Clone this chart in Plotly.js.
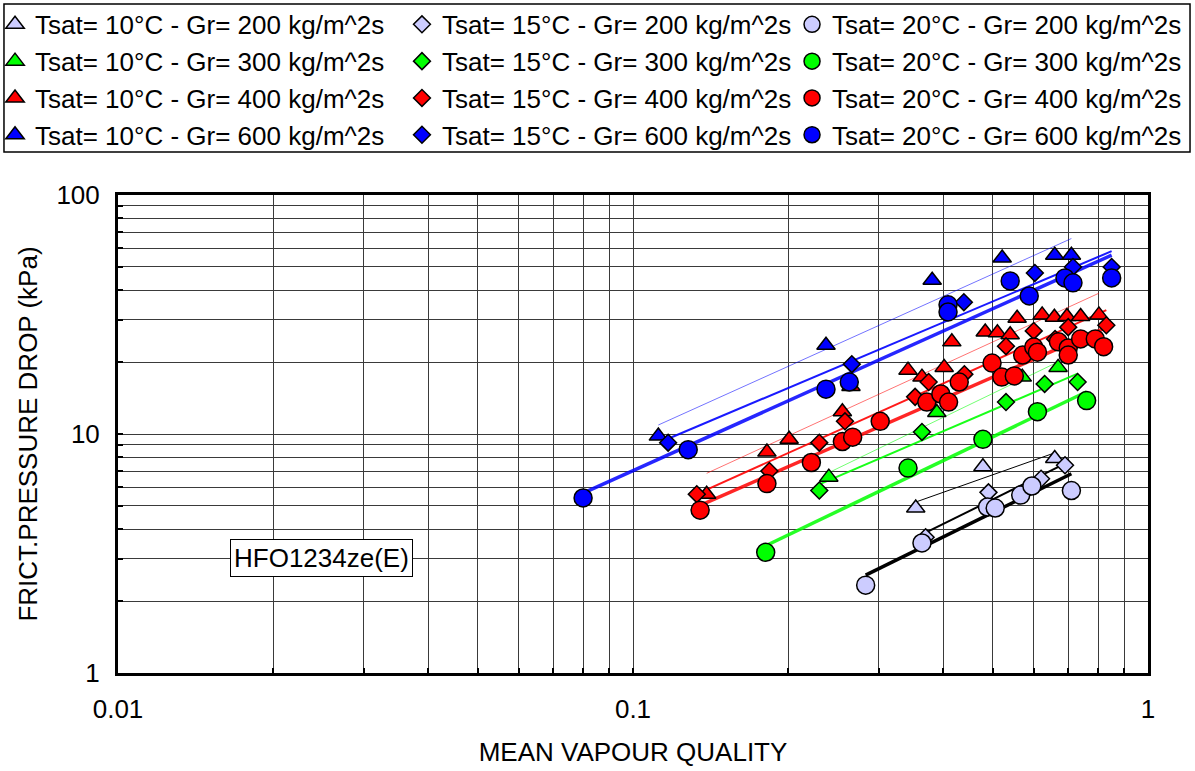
<!DOCTYPE html>
<html><head><meta charset="utf-8">
<script src="https://cdn.plot.ly/plotly-3.0.1.min.js"></script>
<style>body{margin:0;background:#fff}#chart{width:1195px;height:771px}</style>
</head><body><div id="chart"></div>
<script>
// ---- data (mean vapour quality, frictional pressure drop kPa) ----
const x_t10_g200 = [0.354, 0.478, 0.659];
const y_t10_g200 = [4.9, 7.3, 7.9];
const x_t15_g200 = [0.37, 0.49, 0.62, 0.69];
const y_t15_g200 = [3.7, 5.7, 6.5, 7.4];
const x_t20_g200 = [0.283, 0.364, 0.488, 0.505, 0.566, 0.595, 0.71];
const y_t20_g200 = [2.33, 3.5, 4.95, 4.9, 5.55, 6.06, 5.8];

const x_t10_g300 = [0.24, 0.389, 0.57, 0.669];
const y_t10_g300 = [6.6, 12.3, 17.3, 19.0];
const x_t15_g300 = [0.23, 0.364, 0.53, 0.63, 0.73];
const y_t15_g300 = [5.8, 10.2, 13.6, 16.2, 16.5];
const x_t20_g300 = [0.181, 0.342, 0.478, 0.61, 0.76];
const y_t20_g300 = [3.2, 7.2, 9.5, 12.4, 13.8];

const x_t10_g400 = [0.139, 0.182, 0.201, 0.255, 0.265, 0.342, 0.364, 0.402, 0.416, 0.483, 0.51, 0.54, 0.557, 0.623, 0.658, 0.696, 0.74, 0.803];
const y_t10_g400 = [5.6, 8.4, 9.5, 12.4, 15.8, 18.5, 17.3, 19, 24.3, 26.7, 26.5, 26, 30.5, 31.5, 30.8, 31, 31, 31.5];
const x_t15_g400 = [0.133, 0.184, 0.23, 0.258, 0.353, 0.375, 0.44, 0.53, 0.60, 0.66, 0.70, 0.83];
const y_t15_g400 = [5.6, 7.0, 9.2, 11.3, 14.3, 16.5, 17.8, 23.3, 27, 25, 28, 28.5];
const x_t20_g400 = [0.135, 0.182, 0.222, 0.255, 0.267, 0.302, 0.372, 0.396, 0.41, 0.43, 0.498, 0.52, 0.55, 0.571, 0.60, 0.61, 0.67, 0.70, 0.70, 0.74, 0.79, 0.82];
const y_t20_g400 = [4.8, 6.2, 7.6, 9.3, 9.7, 11.3, 13.6, 14.7, 13.6, 16.5, 19.8, 17.3, 17.5, 21.4, 23.1, 22, 24.3, 22.9, 21.4, 25, 25, 23.2];

const x_t10_g600 = [0.112, 0.237, 0.381, 0.521, 0.659, 0.71];
const y_t10_g600 = [9.8, 23.5, 44, 54.5, 56, 56];
const x_t15_g600 = [0.117, 0.266, 0.439, 0.603, 0.715, 0.85];
const y_t15_g600 = [9.2, 19.6, 35.6, 47.2, 50, 50];
const x_t20_g600 = [0.08, 0.128, 0.237, 0.263, 0.409, 0.409, 0.54, 0.588, 0.69, 0.715, 0.85];
const y_t20_g600 = [5.4, 8.6, 15.4, 16.5, 34.7, 32.4, 43.7, 37.8, 45, 42.9, 45];

const tsatLabels = ['10', '15', '20'];
const grLabels = ['200', '300', '400', '600'];
const xTickVals = [0.01, 0.1, 1];
const xTickText = ['0.01', '0.1', '1'];
const yTickVals = [1, 10, 100];
const yTickText = ['1', '10', '100'];
const fluidLabel = 'HFO1234ze(E)';

// ---- styling ----
const seriesData = {
  '10_200': [x_t10_g200, y_t10_g200], '15_200': [x_t15_g200, y_t15_g200], '20_200': [x_t20_g200, y_t20_g200],
  '10_300': [x_t10_g300, y_t10_g300], '15_300': [x_t15_g300, y_t15_g300], '20_300': [x_t20_g300, y_t20_g300],
  '10_400': [x_t10_g400, y_t10_g400], '15_400': [x_t15_g400, y_t15_g400], '20_400': [x_t20_g400, y_t20_g400],
  '10_600': [x_t10_g600, y_t10_g600], '15_600': [x_t15_g600, y_t15_g600], '20_600': [x_t20_g600, y_t20_g600]
};
const fillColors = {'200': '#ccccff', '300': '#00ff00', '400': '#ff0000', '600': '#0000ff'};
const lineRGB = {'200': '0,0,0', '300': '0,255,0', '400': '255,0,0', '600': '0,0,255'};
const symbols = {'10': 'triangle-up', '15': 'diamond', '20': 'circle'};
const sizes = {'10': 16, '15': 13, '20': 18};
const lineStyles = {'10': {w: 1, a: 0.55}, '15': {w: 2, a: 0.9}, '20': {w: 3.5, a: 0.85}};
const legendIds = {'10': 'legend', '15': 'legend2', '20': 'legend3'};

function powerFit(xs, ys) {
  const lx = xs.map(Math.log10), ly = ys.map(Math.log10);
  const n = lx.length;
  const mx = lx.reduce((a, b) => a + b, 0) / n, my = ly.reduce((a, b) => a + b, 0) / n;
  let sxx = 0, sxy = 0;
  for (let i = 0; i < n; i++) { sxx += (lx[i] - mx) ** 2; sxy += (lx[i] - mx) * (ly[i] - my); }
  const b = sxy / sxx, a = my - b * mx;
  const xmin = Math.min(...xs), xmax = Math.max(...xs);
  const fx = [], fy = [];
  for (let k = 0; k <= 20; k++) {
    const lxv = Math.log10(xmin) + (Math.log10(xmax) - Math.log10(xmin)) * k / 20;
    fx.push(Math.pow(10, lxv)); fy.push(Math.pow(10, a + b * lxv));
  }
  return [fx, fy];
}

const fitTraces = [], markerTraces = [];
for (const t of tsatLabels) {
  for (const g of grLabels) {
    const [xs, ys] = seriesData[t + '_' + g];
    const [fx, fy] = powerFit(xs, ys);
    const ls = lineStyles[t];
    fitTraces.push({
      x: fx, y: fy, type: 'scatter', mode: 'lines', showlegend: false, hoverinfo: 'skip',
      line: {color: 'rgba(' + lineRGB[g] + ',' + (g === '200' ? 1 : ls.a) + ')', width: ls.w}
    });
    markerTraces.push({
      x: xs, y: ys, type: 'scatter', mode: 'markers',
      name: 'Tsat= ' + t + '°C - Gr= ' + g + ' kg/m^2s',
      legend: legendIds[t],
      marker: {symbol: symbols[t], size: sizes[t], color: fillColors[g], line: {color: '#000', width: 1.5}}
    });
  }
}

// gridlines at every 1..9 x 10^k
function gridValues(lo, hi) {
  const v = [];
  for (let e = lo; e < hi; e++) for (let m = 1; m <= 9; m++) v.push(m * Math.pow(10, e));
  v.push(Math.pow(10, hi));
  return v;
}
function gridText(vals, tickVals, tickText) {
  return vals.map(v => {
    const i = tickVals.findIndex(t => Math.abs(t - v) / t < 1e-9);
    return i >= 0 ? tickText[i] : '';
  });
}
const xGrid = gridValues(-2, 0), yGrid = gridValues(0, 2);

const FONT = 'Liberation Sans, Arial, sans-serif';
const FS = 26;
const legendCommon = {
  orientation: 'v', font: {family: FONT, size: FS, color: '#000'}, bgcolor: 'rgba(0,0,0,0)',
  borderwidth: 0, xanchor: 'left', yanchor: 'top', y: 1.406, itemsizing: 'trace', tracegroupgap: 0
};

const layout = {
  width: 1195, height: 771,
  margin: {l: 118, r: 47, t: 195, b: 98, autoexpand: false},
  paper_bgcolor: '#fff', plot_bgcolor: '#fff',
  font: {family: FONT, size: FS, color: '#000'},
  showlegend: true,
  legend: Object.assign({}, legendCommon, {x: -0.1194}),
  legend2: Object.assign({}, legendCommon, {x: 0.2757}),
  legend3: Object.assign({}, legendCommon, {x: 0.6544}),
  xaxis: {
    type: 'log', range: [-2, 0], tickmode: 'array', tickvals: xGrid, ticktext: gridText(xGrid, xTickVals, xTickText),
    ticks: 'inside', ticklen: 5, tickwidth: 2, tickcolor: '#000',
    showgrid: true, gridcolor: '#3a3a3a', gridwidth: 1, zeroline: false,
    showline: true, linecolor: '#000', linewidth: 3, mirror: true,
    tickfont: {family: FONT, size: FS}, ticklabelstandoff: 11,
    title: {text: 'MEAN VAPOUR QUALITY', font: {family: FONT, size: FS}, standoff: 20}
  },
  yaxis: {
    type: 'log', range: [0, 2], tickmode: 'array', tickvals: yGrid, ticktext: gridText(yGrid, yTickVals, yTickText),
    ticks: 'inside', ticklen: 5, tickwidth: 2, tickcolor: '#000',
    showgrid: true, gridcolor: '#3a3a3a', gridwidth: 1, zeroline: false,
    showline: true, linecolor: '#000', linewidth: 3, mirror: true,
    tickfont: {family: FONT, size: FS}, ticklabelstandoff: 10,
    title: {text: 'FRICT.PRESSURE DROP (kPa)', font: {family: FONT, size: FS}, standoff: 12}
  },
  shapes: [{
    type: 'rect', xref: 'paper', yref: 'paper', x0: -0.1107, x1: 1.0408, y0: 1.090, y1: 1.3996,
    line: {color: '#000', width: 1.5}, fillcolor: 'rgba(0,0,0,0)', layer: 'above'
  }],
  annotations: [{
    text: fluidLabel, xref: 'paper', yref: 'paper', x: 0.198, y: 0.2406, xanchor: 'center', yanchor: 'middle',
    showarrow: false, font: {family: FONT, size: FS, color: '#000'},
    bgcolor: '#fff', bordercolor: '#000', borderwidth: 1, borderpad: 3
  }]
};

Plotly.newPlot('chart', fitTraces.concat(markerTraces), layout, {displayModeBar: false, staticPlot: true});
</script>
</body></html>
